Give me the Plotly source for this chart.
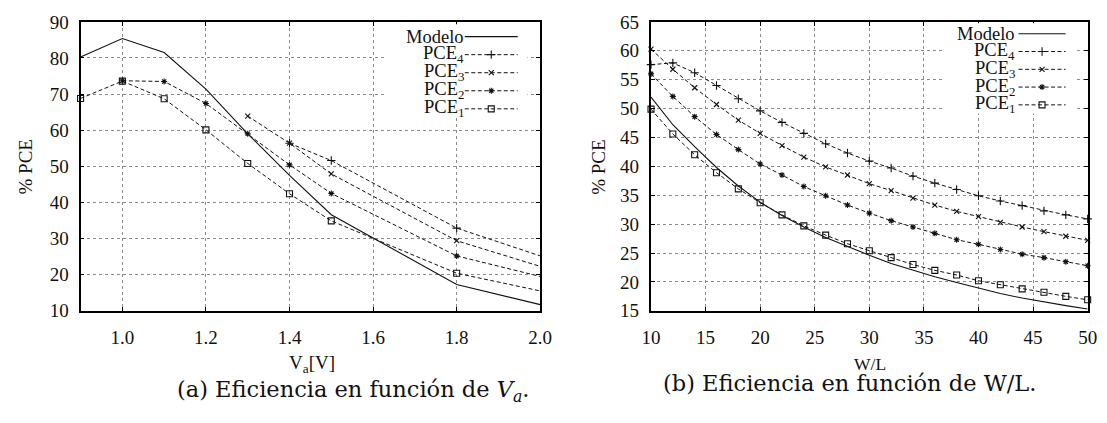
import numpy as np
import plotly.graph_objects as go

# ---- (a) efficiency vs. supply voltage ----
va_modelo = [0.9, 1.0, 1.1, 1.2, 1.3, 1.4, 1.5, 1.8, 2.0]
pce_modelo_va = [80.3, 85.4, 81.5, 71.4, 59.0, 47.5, 36.6, 17.3, 11.7]

va_pce1 = [0.9, 1.0, 1.1, 1.2, 1.3, 1.4, 1.5, 1.8, 2.0]
pce1_va = [68.8, 73.6, 68.7, 60.1, 50.8, 42.4, 34.9, 20.4, 15.5]

va_pce2 = [1.0, 1.1, 1.2, 1.3, 1.4, 1.5, 1.8, 2.0]
pce2_va = [73.7, 73.5, 67.4, 59.0, 50.4, 42.5, 25.2, 19.5]

va_pce3 = [1.3, 1.4, 1.5, 1.8, 2.0]
pce3_va = [63.9, 56.4, 47.9, 29.4, 22.3]

va_pce4 = [1.4, 1.5, 1.8, 2.0]
pce4_va = [56.4, 51.6, 32.9, 25.2]

# ---- (b) efficiency vs. W/L ----
wl = [10, 12, 14, 16, 18, 20, 22, 24, 26, 28, 30,
      32, 34, 36, 38, 40, 42, 44, 46, 48, 50]
pce_modelo_wl = [52.0, 47.2, 43.4, 39.8, 36.6, 33.8, 31.5, 29.5, 27.7, 26.1, 24.6,
                 23.2, 22.0, 20.9, 19.9, 18.9, 18.0, 17.2, 16.5, 15.9, 15.3]
pce4_wl = [57.6, 57.9, 56.2, 54.0, 51.7, 49.6, 47.6, 45.7, 43.9, 42.3, 40.9,
           39.7, 38.3, 37.1, 36.0, 34.9, 34.0, 33.2, 32.3, 31.6, 30.9]
pce3_wl = [60.3, 56.8, 53.6, 50.7, 48.0, 45.7, 43.6, 41.6, 39.9, 38.5, 37.0,
           35.8, 34.5, 33.3, 32.2, 31.3, 30.3, 29.5, 28.7, 27.9, 27.2]
pce2_wl = [56.0, 52.1, 48.6, 45.5, 42.9, 40.4, 38.5, 36.5, 34.9, 33.3, 31.9,
           30.6, 29.5, 28.4, 27.3, 26.5, 25.6, 24.8, 24.2, 23.5, 22.8]
pce1_wl = [49.9, 45.6, 42.0, 38.9, 36.1, 33.7, 31.6, 29.7, 28.1, 26.6, 25.4,
           24.2, 23.0, 22.0, 21.2, 20.2, 19.5, 18.8, 18.2, 17.5, 16.9]

va_ticks = [1.0, 1.2, 1.4, 1.6, 1.8, 2.0]
va_ticktext = ["1.0", "1.2", "1.4", "1.6", "1.8", "2.0"]

legend_labels = ["Modelo", "PCE<sub>4</sub>", "PCE<sub>3</sub>",
                 "PCE<sub>2</sub>", "PCE<sub>1</sub>"]

W, H = 1107, 423
SERIF = "Liberation Serif, serif"
CAPTION = "DejaVu Serif, serif"
INK = "#111111"
DASH = "4px,2.5px"
# small trailing gap after the y tick numbers
Y_GAP = "\u2005\u200a"

# marker style per series key
STYLES = {
    "modelo": dict(symbol=None, size=0),
    "pce4": dict(symbol="cross-thin", size=6),
    "pce3": dict(symbol="x-thin", size=5),
    "pce2": dict(symbol="asterisk", size=5),
    "pce1": dict(symbol="square-open", size=6),
}

fig = go.Figure()


def add_series(x, y, key, xa, ya, x_max):
    x = np.asarray(x, dtype=float)
    y = np.asarray(y, dtype=float)
    solid = key == "modelo"
    fig.add_trace(go.Scatter(
        x=x, y=y, mode="lines", xaxis=xa, yaxis=ya, showlegend=False,
        line=dict(color=INK, width=1.1 if solid else 1.0,
                  dash="solid" if solid else DASH),
        hoverinfo="skip"))
    if not solid:
        # the final sample sits on the right frame, where only the line reaches
        keep = x < x_max - 1e-9 if x_max is not None else np.ones_like(x, bool)
        st = STYLES[key]
        fig.add_trace(go.Scatter(
            x=x[keep], y=y[keep], mode="markers", xaxis=xa, yaxis=ya,
            showlegend=False, cliponaxis=False,
            marker=dict(symbol=st["symbol"], size=st["size"], color=INK,
                        line=dict(color=INK, width=1.1)),
            hoverinfo="skip"))


# panel (a)
add_series(va_modelo, pce_modelo_va, "modelo", "x", "y", 2.0)
add_series(va_pce4, pce4_va, "pce4", "x", "y", 2.0)
add_series(va_pce3, pce3_va, "pce3", "x", "y", 2.0)
add_series(va_pce2, pce2_va, "pce2", "x", "y", 2.0)
add_series(va_pce1, pce1_va, "pce1", "x", "y", 2.0)

# panel (b)
add_series(wl, pce_modelo_wl, "modelo", "x2", "y2", None)
add_series(wl, pce4_wl, "pce4", "x2", "y2", None)
add_series(wl, pce3_wl, "pce3", "x2", "y2", None)
add_series(wl, pce2_wl, "pce2", "x2", "y2", None)
add_series(wl, pce1_wl, "pce1", "x2", "y2", None)

# ---- key boxes drawn in figure pixel space (overlay axes x3/y3) ----
shapes = []
annotations = []
keys = ["modelo", "pce4", "pce3", "pce2", "pce1"]


def add_key(text_right, line_x0, line_x1, row0, row_step, box):
    bx0, by0, bx1, by1 = box
    shapes.append(dict(type="rect", xref="x3", yref="y3", x0=bx0, x1=bx1,
                       y0=by0, y1=by1, fillcolor="white", line_width=0,
                       layer="between"))
    mid = (line_x0 + line_x1) / 2
    for i, (key, lab) in enumerate(zip(keys, legend_labels)):
        yy = row0 + i * row_step
        annotations.append(dict(
            x=text_right / W, y=1 - yy / H, xref="paper", yref="paper",
            text=lab, showarrow=False, xanchor="right", yanchor="middle",
            borderpad=0, font=dict(family=SERIF, size=18.5, color=INK)))
        solid = key == "modelo"
        fig.add_trace(go.Scatter(
            x=[line_x0, line_x1], y=[yy, yy], mode="lines", xaxis="x3",
            yaxis="y3", showlegend=False, hoverinfo="skip",
            line=dict(color=INK, width=1.1 if solid else 1.0,
                      dash="solid" if solid else DASH)))
        if not solid:
            st = STYLES[key]
            fig.add_trace(go.Scatter(
                x=[mid], y=[yy], mode="markers", xaxis="x3", yaxis="y3",
                showlegend=False, hoverinfo="skip",
                marker=dict(symbol=st["symbol"], size=st["size"], color=INK,
                            line=dict(color=INK, width=1.1))))


add_key(464, 464, 518, 28, 19, (383, 15, 528, 113))
add_key(1026, 1029, 1077, 25, 18.7, (952, 14, 1088, 109))

# ---- axes ----
TOP, BOT = 1 - 12.5 / H, 1 - 316.5 / H

axis_common = dict(
    showline=True, linecolor="black", linewidth=1.5, mirror="allticks",
    ticks="inside", ticklen=4, tickwidth=1, tickcolor="black",
    showgrid=True, gridcolor="#8a8a8a", gridwidth=1, griddash="dot",
    zeroline=False,
    tickfont=dict(family=SERIF, size=19, color=INK),
)

layout_axes = dict(
    xaxis=dict(domain=[72 / W, 541 / W], range=[0.9, 2.0], anchor="y",
               tickvals=va_ticks, ticktext=va_ticktext,
               ticklabelstandoff=9, **axis_common),
    yaxis=dict(domain=[BOT, TOP], range=[10, 90], dtick=10, anchor="x",
               ticksuffix=Y_GAP, **axis_common),
    xaxis2=dict(domain=[654 / W, 1099.5 / W], range=[10, 50], dtick=5,
                anchor="y2", ticklabelstandoff=9, **axis_common),
    yaxis2=dict(domain=[BOT, TOP], range=[15, 65], dtick=5, anchor="x2",
                ticksuffix=Y_GAP, **axis_common),
    xaxis3=dict(domain=[0, 1], range=[0, W], visible=False, anchor="y3",
                fixedrange=True),
    yaxis3=dict(domain=[0, 1], range=[H, 0], visible=False, anchor="x3",
                fixedrange=True),
)

# axis titles and sub-captions
annotations += [
    dict(x=16 / W, y=1 - 165 / H, text="% PCE", textangle=-90,
         font=dict(family=SERIF, size=19, color=INK)),
    dict(x=601 / W, y=1 - 166 / H, text="% PCE", textangle=-90,
         font=dict(family=SERIF, size=19, color=INK)),
    dict(x=308 / W, y=1 - 373 / H, text="V<sub>a</sub>[V]",
         font=dict(family=SERIF, size=19, color=INK)),
    dict(x=877 / W, y=1 - 373 / H, text="W/L",
         font=dict(family=SERIF, size=17.5, color=INK)),
    dict(x=350 / W, y=1 - 401 / H,
         text="(a) Eficiencia en función de <i>V<sub>a</sub></i>.",
         font=dict(family=CAPTION, size=22.5, color=INK)),
    dict(x=857 / W, y=1 - 392 / H,
         text="(b) Eficiencia en función de W/L.",
         font=dict(family=CAPTION, size=22.5, color=INK)),
]
for a in annotations[-6:]:
    a.update(xref="paper", yref="paper", showarrow=False,
             xanchor="center", yanchor="middle")

fig.update_layout(
    width=W, height=H, margin=dict(l=0, r=0, t=0, b=0),
    paper_bgcolor="white", plot_bgcolor="rgba(0,0,0,0)",
    showlegend=False, shapes=shapes, annotations=annotations,
    **layout_axes,
)

fig.write_html("out.html", config={"displayModeBar": False})
